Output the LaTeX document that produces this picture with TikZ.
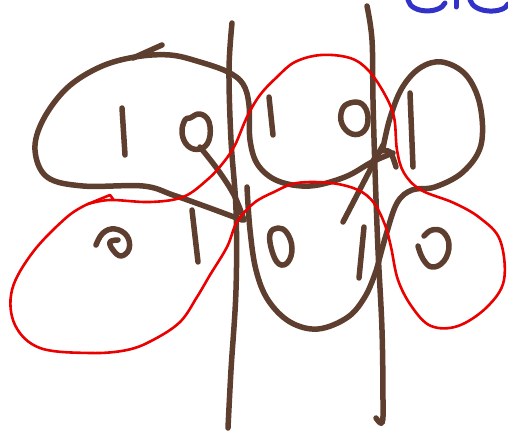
\documentclass[tikz,border=0pt]{standalone}
\definecolor{ink}{RGB}{94,62,46}
\definecolor{redink}{RGB}{235,0,0}
\definecolor{blueink}{RGB}{50,50,200}
\begin{document}
\begin{tikzpicture}[x=1pt,y=-1pt,
  brown/.style={draw=ink,line width=5.5pt,line cap=round,line join=round},
  redline/.style={draw=redink,line width=2.6pt,line cap=round,line join=round},
  blueline/.style={draw=blueink,line width=5pt,line cap=round}]
\useasboundingbox (0,0) rectangle (508,438);
% dividers
\draw[brown] plot[smooth,tension=0.6] coordinates {(232,23) (229,70) (231,140) (236,210) (236,290) (231,370) (228,428)};
\draw[brown] plot[smooth,tension=0.6] coordinates {(367,6) (372,40) (373,100) (375,170) (378,250) (382,330) (383,405) (382,423) (376,418)};
% loop A and bottom of B
\draw[brown] plot[smooth,tension=0.6] coordinates {(242,220) (207,207) (173,195) (143,186) (83,186) (47,177) (35,150) (43,120) (67,88) (100,67) (135,57) (170,55) (200,62) (228,72) (243,84) (249,105) (250,140) (258,165) (278,181) (310,186) (345,177) (372,162) (393,153)};
\draw[brown] (162,45) -- (133,58);
% loop C
\draw[brown] plot[smooth,tension=0.6] coordinates {(383,148) (390,118) (402,88) (420,68) (442,62) (466,75) (480,105) (481,145) (463,172) (435,187) (412,190) (397,203) (386,235) (377,268)};
% loop D
\draw[brown] plot[smooth,tension=0.6] coordinates {(247,187) (250,230) (256,270) (268,300) (290,322) (318,329) (348,317) (366,295) (377,268)};
% digits
\draw[brown] (122,108) -- (125,155);
\draw[brown] plot[smooth cycle,tension=0.7] coordinates {(190,118) (200,114) (209,122) (209,140) (200,149) (188,146) (182,133) (185,120)};
\draw[brown] plot[smooth,tension=0.6] coordinates {(200,147) (218,170) (234,195) (244,220)};
\draw[brown] (269,97) -- (273,135);
\draw[brown] plot[smooth cycle,tension=0.7] coordinates {(350,103) (362,104) (368,117) (364,131) (352,134) (342,124) (342,110)};
\draw[brown] (343,222) -- (383,145);
\draw[brown] plot[smooth,tension=0.5] coordinates {(370,167) (379,152) (390,152) (396,167)};
\draw[brown] (410,93) -- (413,167);
\draw[brown] plot[smooth cycle,tension=0.7] coordinates {(270,234) (278,228) (287,233) (292,248) (288,262) (279,264) (272,251)};
\draw[brown] (364,227) -- (359,278);
\draw[brown] plot[smooth,tension=0.7] coordinates {(424,236) (432,230) (443,232) (449,245) (444,261) (432,267) (423,259) (418,246)};
\draw[brown] plot[smooth,tension=0.7] coordinates {(96,245) (103,233) (115,229) (127,236) (129,249) (121,256) (113,250) (110,242) (118,240)};
\draw[brown] (192,210) -- (198,262);
% red chain
\draw[redline] plot[smooth,tension=0.6] coordinates {(88,204) (110,200) (150,202) (183,197) (207,180) (223,163) (235,145) (247,117) (260,95) (277,77) (295,62) (321,55) (350,58) (368,70) (384,93) (394,117) (397,150) (404,173) (421,190) (454,203) (480,218) (500,240) (504,280) (487,307) (458,326) (431,326) (412,307) (398,280) (391,247) (385,225) (374,203) (358,190) (331,183) (297,183) (274,192) (254,203) (237,222) (227,247) (210,275) (197,297) (180,322) (153,340) (127,350) (90,353) (40,348) (15,325) (12,290) (33,252) (67,217) (88,204)};
\draw[redline] (88,204) -- (110,195) -- (113,199);
% blue fragment
\draw[blueline] (408,0) .. controls (411,14) and (440,14) .. (445,3);
\draw[blueline] (456,0) -- (456,7);
\draw[blueline] (470,0) .. controls (474,14) and (504,14) .. (508,4);
\end{tikzpicture}
\end{document}
